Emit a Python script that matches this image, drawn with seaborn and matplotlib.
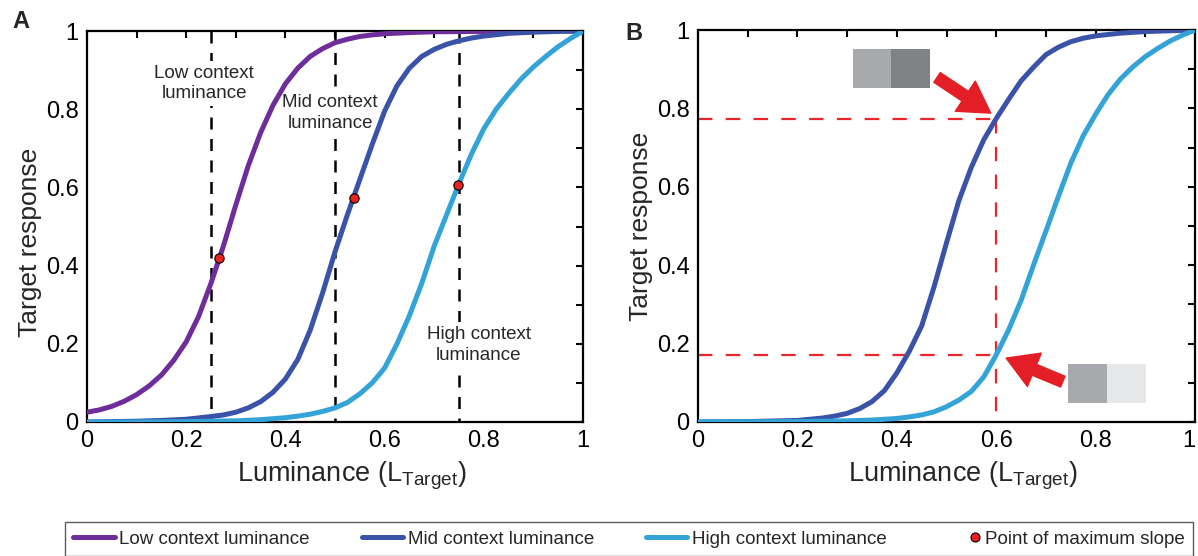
import numpy as np
import pandas as pd
import matplotlib
matplotlib.use("Agg")
import matplotlib.pyplot as plt
import seaborn as sns
from matplotlib.lines import Line2D
from matplotlib.patches import Rectangle
from matplotlib.legend_handler import HandlerLine2D

# ---------------- data ----------------
# Panel A
low_a_x = [0, 0.025, 0.05, 0.075, 0.1, 0.125, 0.15, 0.175, 0.2, 0.225, 0.25, 0.275, 0.3,
           0.325, 0.35, 0.375, 0.4, 0.425, 0.45, 0.475, 0.5, 0.525, 0.55, 0.575, 0.6,
           0.65, 0.7, 0.8, 0.9, 1.0]
low_a_y = [0.025, 0.031, 0.04, 0.053, 0.07, 0.092, 0.12, 0.158, 0.205, 0.27, 0.355, 0.45,
           0.555, 0.655, 0.74, 0.81, 0.865, 0.905, 0.935, 0.955, 0.97, 0.979, 0.986,
           0.99, 0.993, 0.996, 0.998, 0.999, 1.0, 1.0]

mid_a_x = [0, 0.05, 0.1, 0.15, 0.2, 0.25, 0.275, 0.3, 0.325, 0.35, 0.375, 0.4, 0.425,
           0.45, 0.475, 0.5, 0.525, 0.55, 0.575, 0.6, 0.625, 0.65, 0.675, 0.7, 0.725,
           0.75, 0.775, 0.8, 0.85, 0.9, 0.95, 1.0]
mid_a_y = [0.0, 0.001, 0.002, 0.004, 0.007, 0.014, 0.018, 0.025, 0.036, 0.052, 0.076,
           0.11, 0.16, 0.235, 0.33, 0.435, 0.53, 0.62, 0.71, 0.795, 0.86, 0.905, 0.935,
           0.953, 0.966, 0.975, 0.982, 0.987, 0.994, 0.997, 0.999, 1.0]

high_a_x = [0, 0.1, 0.2, 0.3, 0.35, 0.4, 0.425, 0.45, 0.475, 0.5, 0.525, 0.55, 0.575,
            0.6, 0.625, 0.65, 0.675, 0.7, 0.725, 0.75, 0.775, 0.8, 0.825, 0.85, 0.875,
            0.9, 0.925, 0.95, 0.975, 1.0]
high_a_y = [0.0, 0.0, 0.001, 0.003, 0.006, 0.011, 0.015, 0.02, 0.027, 0.036, 0.05, 0.072,
            0.1, 0.138, 0.2, 0.272, 0.355, 0.45, 0.53, 0.61, 0.685, 0.75, 0.8, 0.84,
            0.877, 0.908, 0.935, 0.96, 0.981, 1.0]

slope_x = [0.266, 0.538, 0.747]
slope_y = [0.42, 0.574, 0.607]
context_lum = [0.25, 0.5, 0.75]

# Panel B
mid_b_x = [0, 0.1, 0.2, 0.25, 0.275, 0.3, 0.325, 0.35, 0.375, 0.4, 0.425, 0.45, 0.475,
           0.5, 0.525, 0.55, 0.575, 0.6, 0.625, 0.65, 0.675, 0.7, 0.725, 0.75, 0.775,
           0.8, 0.85, 0.9, 0.95, 1.0]
mid_b_y = [0.0, 0.001, 0.004, 0.01, 0.015, 0.022, 0.034, 0.052, 0.08, 0.125, 0.18, 0.245,
           0.345, 0.457, 0.565, 0.65, 0.72, 0.774, 0.823, 0.87, 0.905, 0.937, 0.956,
           0.97, 0.979, 0.985, 0.992, 0.996, 0.998, 1.0]

high_b_x = [0, 0.2, 0.3, 0.35, 0.4, 0.425, 0.45, 0.475, 0.5, 0.525, 0.55, 0.575, 0.6,
            0.625, 0.65, 0.675, 0.7, 0.725, 0.75, 0.775, 0.8, 0.825, 0.85, 0.875, 0.9,
            0.925, 0.95, 0.975, 1.0]
high_b_y = [0.0, 0.001, 0.003, 0.005, 0.009, 0.013, 0.018, 0.026, 0.039, 0.056, 0.078,
            0.115, 0.171, 0.235, 0.31, 0.4, 0.487, 0.575, 0.66, 0.73, 0.785, 0.835,
            0.875, 0.906, 0.932, 0.953, 0.972, 0.987, 1.0]

target_lum = 0.6
target_resp = [0.774, 0.171]

tick_vals = [0, 0.1, 0.2, 0.3, 0.4, 0.5, 0.6, 0.7, 0.8, 0.9, 1.0]
tick_labels = ["0", "", "0.2", "", "0.4", "", "0.6", "", "0.8", "", "1"]

legend_labels = ["Low context luminance", "Mid context luminance",
                 "High context luminance", "Point of maximum slope"]

# ---------------- style ----------------
sns.set_theme(style="white")
plt.rcParams["font.family"] = ["Liberation Sans", "DejaVu Sans"]
plt.rcParams["mathtext.fontset"] = "custom"
plt.rcParams["mathtext.rm"] = "Liberation Sans"

C_LOW = "#6E2D9B"
C_MID = "#3A52A8"
C_HIGH = "#33A3D8"
C_DOT = "#E8221E"
C_RED = "#E8262B"
LW = 3.6

fig = plt.figure(figsize=(11.98, 5.56), dpi=100)
W, H = 1198, 556
axA = fig.add_axes([87 / W, 1 - 422 / H, 496 / W, 391 / H])
axB = fig.add_axes([698 / W, 1 - 422 / H, 497 / W, 392 / H])


def style_axes(ax, ylab_y):
    ax.set_xlim(0, 1)
    ax.set_ylim(0, 1)
    ax.set_xticks(tick_vals)
    ax.set_yticks(tick_vals)
    ax.set_xticklabels(tick_labels)
    ax.set_yticklabels(tick_labels)
    ax.tick_params(direction="in", length=5, width=1.5, top=True, right=True,
                   labelsize=17, pad=6, colors="black")
    for s in ax.spines.values():
        s.set_linewidth(1.6)
        s.set_color("black")
        s.set_visible(True)
    ax.set_xlabel(r"Luminance (L$_\mathregular{Target}$)", fontsize=19.5, labelpad=5,
                  x=0.533)
    ax.set_ylabel("Target response", fontsize=19, labelpad=3, y=ylab_y)


def curve(ax, xs, ys, color):
    df = pd.DataFrame({"x": xs, "y": ys})
    sns.lineplot(data=df, x="x", y="y", ax=ax, color=color, lw=LW,
                 estimator=None, sort=False, zorder=5,
                 solid_joinstyle="round", solid_capstyle="round")


# ---------------- Panel A ----------------
for xv in context_lum:
    axA.plot([xv, xv], [1, 0], color="black", lw=1.8, dashes=(4.8, 3.8), zorder=1)

curve(axA, low_a_x, low_a_y, C_LOW)
curve(axA, mid_a_x, mid_a_y, C_MID)
curve(axA, high_a_x, high_a_y, C_HIGH)
sns.scatterplot(x=slope_x, y=slope_y, ax=axA, color=C_DOT, edgecolor="black",
                linewidth=0.8, s=45, zorder=7)

box = dict(facecolor="white", edgecolor="none", pad=3)
axA.text(0.236, 0.866, "Low context\nluminance", ha="center", va="center",
         fontsize=13.5, bbox=box, zorder=3, linespacing=1.25)
axA.text(0.49, 0.79, "Mid context\nluminance", ha="center", va="center",
         fontsize=13.5, bbox=box, zorder=3, linespacing=1.25)
axA.text(0.79, 0.197, "High context\nluminance", ha="center", va="center",
         fontsize=13.5, bbox=box, zorder=3, linespacing=1.25)
style_axes(axA, 0.46)

# ---------------- Panel B ----------------
for yv in target_resp:
    axB.plot([0, target_lum], [yv, yv], color=C_RED, lw=1.6, dashes=(6.5, 6), zorder=2)
axB.plot([target_lum, target_lum], [max(target_resp), 0], color=C_RED, lw=1.6,
         dashes=(6.5, 6), zorder=2)

curve(axB, mid_b_x, mid_b_y, C_MID)
curve(axB, high_b_x, high_b_y, C_HIGH)

# grey context swatches
axB.add_patch(Rectangle((0.311, 0.852), 0.078, 0.099, facecolor="#A7A9AC", edgecolor="none"))
axB.add_patch(Rectangle((0.389, 0.852), 0.078, 0.099, facecolor="#808285", edgecolor="none"))
axB.add_patch(Rectangle((0.744, 0.049), 0.079, 0.099, facecolor="#A7A9AC", edgecolor="none"))
axB.add_patch(Rectangle((0.823, 0.049), 0.078, 0.099, facecolor="#E6E7E8", edgecolor="none"))

arrow_style = "simple,head_length=1.1,head_width=1.3,tail_width=0.42"
axB.annotate("", xy=(0.589, 0.788), xytext=(0.481, 0.879),
             arrowprops=dict(arrowstyle=arrow_style, mutation_scale=20,
                             color="#E41E26", shrinkA=0, shrinkB=0), zorder=8)
axB.annotate("", xy=(0.62, 0.163), xytext=(0.734, 0.103),
             arrowprops=dict(arrowstyle=arrow_style, mutation_scale=20,
                             color="#E41E26", shrinkA=0, shrinkB=0), zorder=8)
style_axes(axB, 0.5)
axB.get_xticklabels()[-1].set_horizontalalignment("right")

# panel letters
fig.text(21 / W, 1 - 22 / H, "A", fontsize=17, fontweight="bold", ha="center", va="center")
fig.text(634 / W, 1 - 33 / H, "B", fontsize=17, fontweight="bold", ha="center", va="center")


# ---------------- legend ----------------
class RightMarkerHandler(HandlerLine2D):
    """Place the single legend marker near the right end of the handle box."""
    def get_xdata(self, legend, xdescent, ydescent, width, height, fontsize):
        right = width - xdescent
        xd = [right - 8, right]
        return xd, [right - 4]


dot_handle = Line2D([], [], ls="none", marker="o", markersize=6.5, markerfacecolor=C_DOT,
                    markeredgecolor="black", markeredgewidth=0.8)
handles = [Line2D([], [], color=C_LOW, lw=LW),
           Line2D([], [], color=C_MID, lw=LW),
           Line2D([], [], color=C_HIGH, lw=LW),
           dot_handle]
leg = fig.legend(handles, legend_labels, loc="lower left",
                 bbox_to_anchor=(65 / W, 0.0, (1193 - 65) / W, 41 / H),
                 mode="expand", ncol=4, frameon=True, fancybox=False,
                 edgecolor="#333333", fontsize=13.5, handlelength=2.2,
                 handletextpad=0.25, borderaxespad=0, borderpad=0.45,
                 handler_map={dot_handle: RightMarkerHandler(numpoints=1)})
leg.get_frame().set_linewidth(1.0)

fig.savefig("out.png", dpi=100)
